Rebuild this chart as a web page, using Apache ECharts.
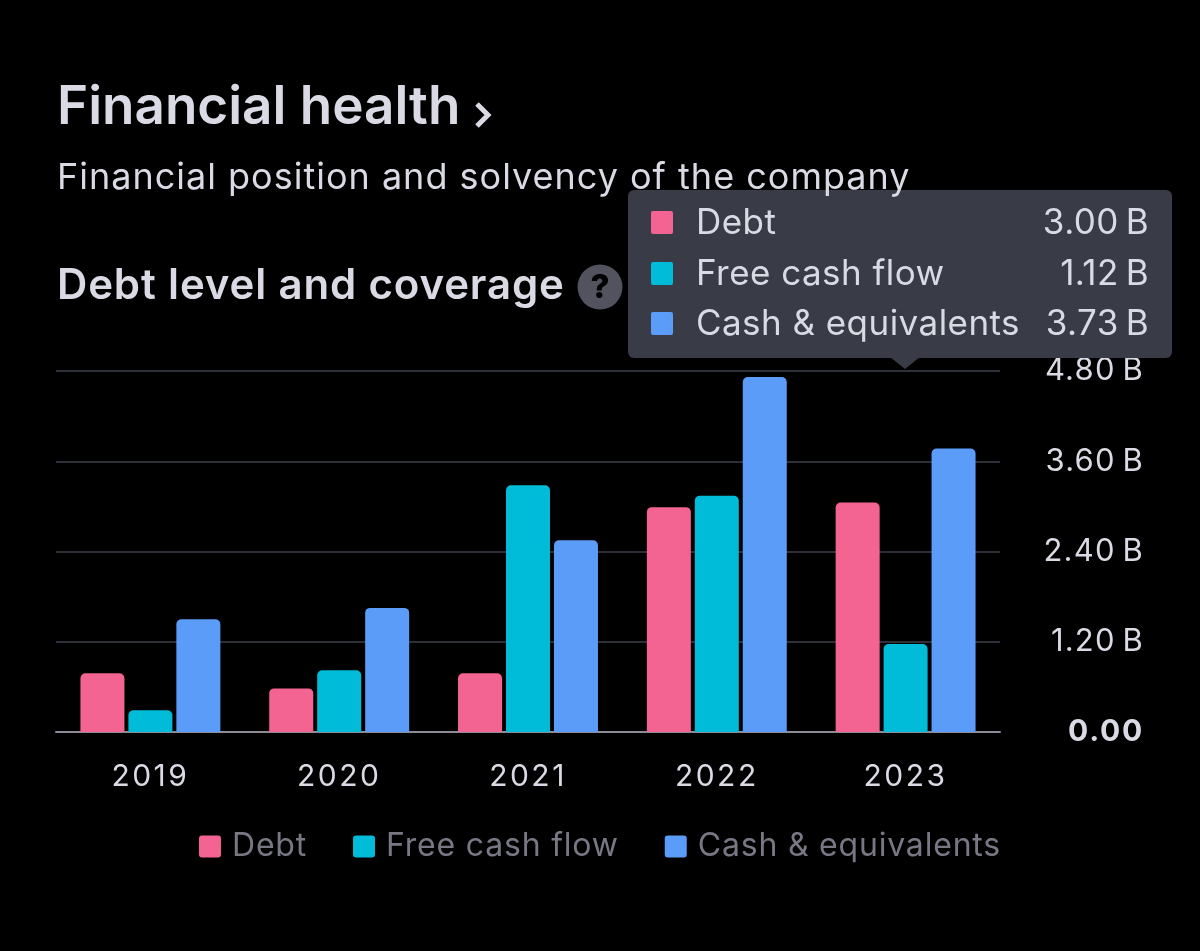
<!DOCTYPE html>
<html><head><meta charset="utf-8">
<style>html,body{margin:0;padding:0;background:#000}#c{width:1200px;height:951px}</style>
<script src="https://cdn.jsdelivr.net/npm/echarts@6/dist/echarts.min.js"></script>
</head><body><div id="c"></div>
<script>
const years = ['2019','2020','2021','2022','2023'];
const debt = [0.78,0.58,0.78,2.99,3.05];
const freeCashFlow = [0.29,0.82,3.28,3.14,1.17];
const cash = [1.50,1.65,2.55,4.72,3.77];
const seriesNames = ['Debt','Free cash flow','Cash & equivalents'];
const tipValues = [3.00,1.12,3.73];
const yTicks = [0,1.2,2.4,3.6,4.8];
const colors = ['#f46493','#00bcd8','#5b9cf8'];
const FF = 'Inter, "Noto Sans", sans-serif';
const TXT = '#d9dae3';

// Canvas letter-spacing per text size, so the tracking of the original type is kept.
const tracking = {'30':2.5,'31':1.2,'32':0.8,'35':0.45,'36':1,'42':0.85};
const proto = CanvasRenderingContext2D.prototype;
const track = ctx => {
  const m = /(\d+)px/.exec(ctx.font);
  const bold = /^(700|bold)/.test(ctx.font);
  const s = m ? (bold && m[1]==='30' ? 1.75 : (tracking[m[1]]||0)) : 0;
  ctx.letterSpacing = s + 'px';
};
['fillText','measureText'].forEach(k=>{
  const f = proto[k];
  proto[k] = function(){ track(this); return f.apply(this,arguments); };
});

const fmt = v => v.toFixed(2) + '\u2009B';
const rowY = [223,274,324];
const chart = echarts.init(document.getElementById('c'));
const text = (x,y,t,size,weight,fill,align) => ({type:'text',x,y,z:200,style:{text:t,font:`${weight} ${size}px ${FF}`,fill,textAlign:align||'left',textVerticalAlign:'middle'}});
const tipEls = [
  {type:'rect',z:150,shape:{x:628,y:190,width:544,height:168,r:6},style:{fill:'#393c47'}},
  {type:'polygon',z:150,shape:{points:[[890,357],[920,357],[905,369]]},style:{fill:'#393c47'}}
];
seriesNames.forEach((n,i)=>{
  tipEls.push({type:'rect',z:200,shape:{x:651,y:rowY[i]-12,width:22,height:23,r:2},style:{fill:colors[i]}});
  tipEls.push(text(696,rowY[i],n,35,400,TXT));
  tipEls.push(text(1149,rowY[i],fmt(tipValues[i]),35,400,TXT,'right'));
});
chart.setOption({
  backgroundColor:'#000',
  animation:false,
  textStyle:{fontFamily:FF},
  grid:{left:56,right:200,top:371,bottom:219,containLabel:false},
  legend:{
    right:194,top:825,itemWidth:22,itemHeight:22,itemGap:46,
    icon:'path://M3,0H19A3,3 0 0 1 22,3V19A3,3 0 0 1 19,22H3A3,3 0 0 1 0,19V3A3,3 0 0 1 3,0Z',
    data:seriesNames,selectedMode:false,
    textStyle:{color:'#777883',fontSize:32,fontFamily:FF,padding:[4,0,0,6]}
  },
  xAxis:{type:'category',data:years,
    axisLine:{show:true,lineStyle:{color:'#8b8c96',width:2}},
    axisTick:{show:false},
    axisLabel:{color:TXT,fontSize:30,margin:29,fontFamily:FF}
  },
  yAxis:{type:'value',min:yTicks[0],max:yTicks[4],interval:yTicks[1],
    axisLine:{show:false},axisTick:{show:false},
    splitLine:{lineStyle:{color:'#2d2f39',width:2}},
    position:'right',
    axisLabel:{color:TXT,fontSize:31,fontFamily:FF,align:'right',margin:144,
      formatter:v=> v===0 ? '{b|0.00}' : fmt(v),
      rich:{b:{fontSize:30,fontWeight:700,color:TXT,fontFamily:FF}}
    }
  },
  series:[debt,freeCashFlow,cash].map((d,i)=>({
    name:seriesNames[i],type:'bar',data:d,barWidth:44,barGap:'9%',
    itemStyle:{color:colors[i],borderRadius:[5,5,0,0]}
  })),
  graphic:[
    text(57,108,'Financial health',53,600,TXT),
    {type:'polyline',z:200,shape:{points:[[477,104],[488,115],[477,126]]},style:{stroke:TXT,lineWidth:5,fill:null}},
    text(57,178,'Financial position and solvency of the company',36,400,TXT),
    text(57,286,'Debt level and coverage',42,600,TXT),
    {type:'circle',z:200,shape:{cx:600,cy:287,r:22.5},style:{fill:'#52535e'}},
    text(600,288,'?',33,800,'#000','center'),
    ...tipEls
  ]
});
</script></body></html>
